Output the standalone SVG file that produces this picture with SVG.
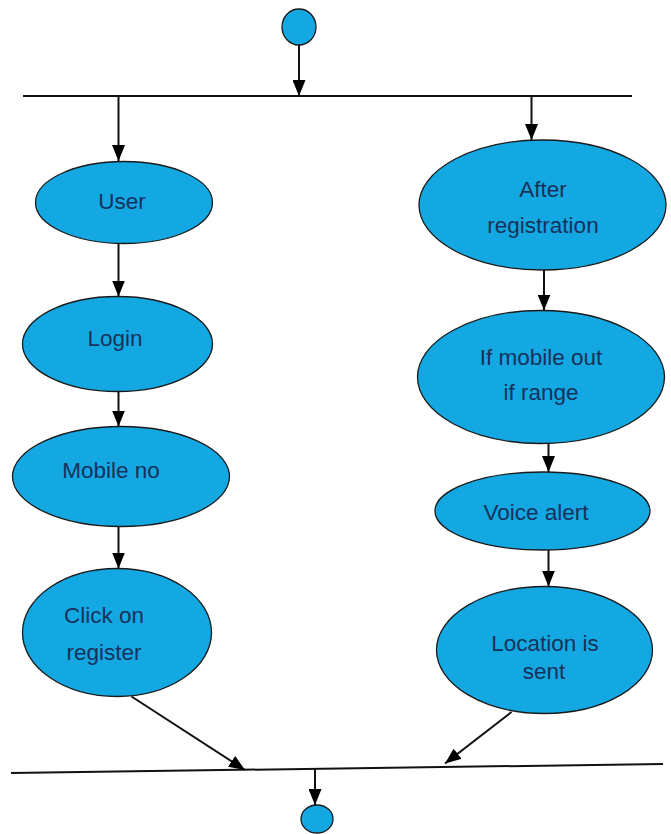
<svg xmlns="http://www.w3.org/2000/svg" width="671" height="834" viewBox="0 0 671 834">
<style>
.node{fill:#14A8E2;stroke:#1a1a1a;stroke-width:1.3}
.lbl{font-family:"Liberation Sans",Arial,sans-serif;font-size:22.5px;fill:#17325A;text-anchor:middle}
.bar{stroke:#111;stroke-width:2;fill:none}
.edge{stroke:#111;stroke-width:2;fill:none;marker-end:url(#arr)}
</style>
<defs>
<marker id="arr" viewBox="0 0 16 13" refX="16" refY="6.5" markerWidth="16" markerHeight="13" markerUnits="userSpaceOnUse" orient="auto">
<path d="M0,0 L16,6.5 L0,13 Z" fill="#000"/>
</marker>
</defs>
<rect width="671" height="834" fill="#fff"/>
<g id="start"><ellipse class="node" cx="299" cy="27" rx="17" ry="18"/></g>
<g id="fork"><line class="bar" x1="23" y1="96" x2="632" y2="96"/></g>
<g id="join"><line class="bar" x1="11" y1="773" x2="663" y2="764"/></g>
<g id="user"><ellipse class="node" cx="124" cy="202.5" rx="88.5" ry="41"/><text class="lbl" x="122" y="209">User</text></g>
<g id="login"><ellipse class="node" cx="117.5" cy="344" rx="95" ry="47.5"/><text class="lbl" x="115" y="346">Login</text></g>
<g id="mobile"><ellipse class="node" cx="121" cy="476.5" rx="108.5" ry="50"/><text class="lbl" x="111" y="478">Mobile no</text></g>
<g id="click"><ellipse class="node" cx="117" cy="632.5" rx="94.5" ry="64"/><text class="lbl" x="104" y="623">Click on</text><text class="lbl" x="104" y="660">register</text></g>
<g id="after"><ellipse class="node" cx="542.5" cy="205" rx="123.5" ry="65"/><text class="lbl" x="543" y="197">After</text><text class="lbl" x="543" y="233">registration</text></g>
<g id="ifmobile"><ellipse class="node" cx="541" cy="377" rx="123.5" ry="66.5"/><text class="lbl" x="541" y="365">If mobile out</text><text class="lbl" x="541" y="400">if range</text></g>
<g id="voice"><ellipse class="node" cx="542.5" cy="511" rx="107.5" ry="39"/><text class="lbl" x="536" y="520">Voice alert</text></g>
<g id="location"><ellipse class="node" cx="544.5" cy="650" rx="108" ry="63.5"/><text class="lbl" x="545" y="651">Location is</text><text class="lbl" x="544" y="679">sent</text></g>
<g id="end"><ellipse class="node" cx="317" cy="819" rx="16" ry="14"/></g>
<g id="connectors">
<line class="edge" x1="299" y1="45" x2="299" y2="96"/>
<line class="edge" x1="118.5" y1="96" x2="118.5" y2="161"/>
<line class="edge" x1="531.5" y1="96" x2="531.5" y2="140"/>
<line class="edge" x1="118.5" y1="243.5" x2="118.5" y2="296.5"/>
<line class="edge" x1="118.5" y1="391.5" x2="118.5" y2="426.5"/>
<line class="edge" x1="118.5" y1="526.5" x2="118.5" y2="568.5"/>
<line class="edge" x1="131.5" y1="696.5" x2="245" y2="770"/>
<line class="edge" x1="544" y1="270" x2="544" y2="310.5"/>
<line class="edge" x1="548.5" y1="443.5" x2="548.5" y2="472"/>
<line class="edge" x1="548.5" y1="550" x2="548.5" y2="586.5"/>
<line class="edge" x1="511.5" y1="712" x2="445" y2="763.5"/>
<line class="edge" x1="315" y1="768" x2="315" y2="805"/>
</g>
</svg>
